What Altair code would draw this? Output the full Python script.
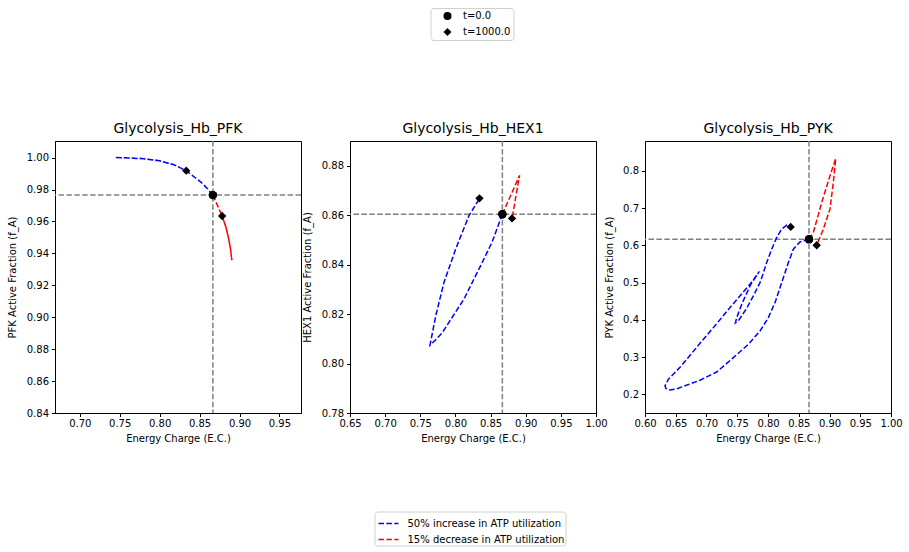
import altair as alt
import pandas as pd

# ---------------- data ----------------
SERIES = ["50% increase in ATP utilization", "15% decrease in ATP utilization"]
SERIES_COLORS = ["#0000ff", "#ff0000"]
TIMES = ["t=0.0", "t=1000.0"]
TIME_SHAPES = ["circle", "diamond"]
TITLES = ["Glycolysis_Hb_PFK", "Glycolysis_Hb_HEX1", "Glycolysis_Hb_PYK"]
Y_TITLES = ["PFK Active Fraction (f_A)", "HEX1 Active Fraction (f_A)", "PYK Active Fraction (f_A)"]
X_TITLE = "Energy Charge (E.C.)"

# PFK
pfk_blue_x = [0.8667, 0.8600, 0.8520, 0.8430, 0.8333, 0.8180, 0.8000, 0.7800, 0.7600, 0.7440,
              0.7600, 0.7800, 0.8000, 0.8180, 0.8333]
pfk_blue_y = [0.9765, 0.9805, 0.9845, 0.9880, 0.9918, 0.9955, 0.9980, 0.9993, 0.9998, 1.0000,
              0.9998, 0.9993, 0.9980, 0.9955, 0.9918]
pfk_red_x = [0.8667, 0.8720, 0.8783, 0.8830, 0.8865, 0.8890, 0.8904, 0.8890, 0.8865, 0.8830, 0.8783]
pfk_red_y = [0.9765, 0.9705, 0.9634, 0.9565, 0.9490, 0.9420, 0.9357, 0.9420, 0.9490, 0.9565, 0.9634]

# HEX1
hex_blue_x = [0.8668, 0.8520, 0.8356, 0.8120, 0.7813, 0.7680, 0.7638, 0.7719, 0.7836, 0.8002, 0.8191, 0.8342]
hex_blue_y = [0.8604, 0.8490, 0.8394, 0.8260, 0.8125, 0.8085, 0.8074, 0.8192, 0.8327, 0.8462, 0.8597, 0.8668]
hex_red_x = [0.8668, 0.8730, 0.8800, 0.8860, 0.8913, 0.8885, 0.8855, 0.8830, 0.8805]
hex_red_y = [0.8604, 0.8644, 0.8688, 0.8727, 0.8761, 0.8718, 0.8668, 0.8625, 0.8587]

# PYK
pyk_blue_x = [0.8667, 0.8520, 0.8412, 0.8331, 0.8222, 0.8114, 0.8005, 0.7870, 0.7680, 0.7436,
              0.7165, 0.6894, 0.6650, 0.6500, 0.6400, 0.6340, 0.6325, 0.6379, 0.6569, 0.6840,
              0.7111, 0.7382, 0.7599, 0.7762, 0.7859, 0.7720, 0.7580, 0.7490, 0.7470, 0.7520,
              0.7650, 0.7780, 0.7870, 0.7908, 0.7978, 0.8060, 0.8141, 0.8222, 0.8304, 0.8369]
pyk_blue_y = [0.6165, 0.6092, 0.5895, 0.5537, 0.5000, 0.4462, 0.4059, 0.3701, 0.3343, 0.2985,
              0.2600, 0.2380, 0.2230, 0.2140, 0.2120, 0.2160, 0.2230, 0.2403, 0.2725, 0.3262,
              0.3791, 0.4328, 0.4749, 0.5071, 0.5300, 0.4950, 0.4450, 0.4050, 0.3920, 0.3980,
              0.4300, 0.4700, 0.5000, 0.5179, 0.5537, 0.5895, 0.6209, 0.6433, 0.6540, 0.6495]
pyk_red_x = [0.8667, 0.8737, 0.8873, 0.9008, 0.9101, 0.9062, 0.9008, 0.8900, 0.8792]
pyk_red_y = [0.6165, 0.6342, 0.7148, 0.7866, 0.8330, 0.7686, 0.6971, 0.6434, 0.6003]

# axis limits and ticks
pfk_xlim, pfk_ylim = [0.669, 0.977], [0.84, 1.0104]
hex_xlim, hex_ylim = [0.65, 1.00], [0.78, 0.89]
pyk_xlim, pyk_ylim = [0.60, 1.00], [0.15, 0.88]
pfk_xticks = [0.70, 0.75, 0.80, 0.85, 0.90, 0.95]
pfk_yticks = [0.84, 0.86, 0.88, 0.90, 0.92, 0.94, 0.96, 0.98, 1.00]
hex_xticks = [0.65, 0.70, 0.75, 0.80, 0.85, 0.90, 0.95, 1.00]
hex_yticks = [0.78, 0.80, 0.82, 0.84, 0.86, 0.88]
pyk_xticks = [0.60, 0.65, 0.70, 0.75, 0.80, 0.85, 0.90, 0.95, 1.00]
pyk_yticks = [0.2, 0.3, 0.4, 0.5, 0.6, 0.7, 0.8]

FONT = "DejaVu Sans"
DASH = [5.5, 2.4]
PW, PH = 246, 272

color_legend = alt.Legend(
    title=None, orient="none", legendX=319.5, legendY=370.5,
    symbolType="stroke", symbolDash=DASH, symbolStrokeWidth=1.5, symbolSize=400,
    labelFont=FONT, labelFontSize=10, labelColor="black", labelLimit=400,
    labelOffset=8, padding=1, rowPadding=-9, symbolOffset=2,
    strokeColor="#d0d0d0", fillColor="white", cornerRadius=3,
)
shape_legend = alt.Legend(
    title=None, orient="none", legendX=375.5, legendY=-133,
    symbolSize=64, symbolFillColor="black", symbolStrokeColor="black", symbolStrokeWidth=0,
    labelFont=FONT, labelFontSize=10, labelColor="black", labelLimit=300,
    labelOffset=10.5, padding=3, rowPadding=6, symbolOffset=9,
    strokeColor="#d0d0d0", fillColor="white", cornerRadius=3,
)


def panel(title, ytitle, bx, by, rx, ry, xlim, ylim, xticks, yticks, yfmt):
    rows = []
    for s, xs_, ys_ in ((SERIES[0], bx, by), (SERIES[1], rx, ry)):
        for i, (x, y) in enumerate(zip(xs_, ys_)):
            rows.append({"series": s, "i": i, "x": x, "y": y})
    lines = pd.DataFrame(rows)
    pts = pd.DataFrame([
        {"t": TIMES[0], "x": bx[0], "y": by[0]},
        {"t": TIMES[0], "x": rx[0], "y": ry[0]},
        {"t": TIMES[1], "x": bx[-1], "y": by[-1]},
        {"t": TIMES[1], "x": rx[-1], "y": ry[-1]},
    ])
    ref = pd.DataFrame([{"x": bx[0], "y": by[0]}])

    xs = alt.Scale(domain=xlim, nice=False, zero=False)
    ys = alt.Scale(domain=ylim, nice=False, zero=False)
    xax = alt.Axis(values=xticks, format=".2f", title=X_TITLE)
    yax = alt.Axis(values=yticks, format=yfmt, title=ytitle)
    X = alt.X("x:Q", scale=xs, axis=xax)
    Y = alt.Y("y:Q", scale=ys, axis=yax)

    vrule = alt.Chart(ref).mark_rule(color="#808080", strokeWidth=1.5, strokeDash=DASH).encode(x=X)
    hrule = alt.Chart(ref).mark_rule(color="#808080", strokeWidth=1.5, strokeDash=DASH).encode(y=Y)
    line = alt.Chart(lines).mark_line(strokeWidth=1.5, strokeDash=DASH, clip=True).encode(
        x=X, y=Y,
        color=alt.Color("series:N", scale=alt.Scale(domain=SERIES, range=SERIES_COLORS), legend=color_legend),
        order=alt.Order("i:Q"),
    )
    points = alt.Chart(pts).mark_point(filled=True, color="black", size=70, opacity=1).encode(
        x=X, y=Y,
        shape=alt.Shape("t:N", scale=alt.Scale(domain=TIMES, range=TIME_SHAPES), legend=shape_legend),
    )
    return alt.layer(vrule, hrule, line, points).properties(
        width=PW, height=PH,
        title=alt.TitleParams(text=title, fontSize=14, font=FONT, fontWeight="normal", color="black", offset=4),
    )


p1 = panel(TITLES[0], Y_TITLES[0], pfk_blue_x, pfk_blue_y, pfk_red_x, pfk_red_y,
           pfk_xlim, pfk_ylim, pfk_xticks, pfk_yticks, ".2f")
p2 = panel(TITLES[1], Y_TITLES[1], hex_blue_x, hex_blue_y, hex_red_x, hex_red_y,
           hex_xlim, hex_ylim, hex_xticks, hex_yticks, ".2f")
p3 = panel(TITLES[2], Y_TITLES[2], pyk_blue_x, pyk_blue_y, pyk_red_x, pyk_red_y,
           pyk_xlim, pyk_ylim, pyk_xticks, pyk_yticks, ".1f")

chart = alt.hconcat(p1, p2, p3, spacing=49, bounds="flush").properties(
    padding={"left": 7, "top": 7, "right": 5, "bottom": 5},
    background="white",
).configure_axis(
    domainColor="black", tickColor="black", labelColor="black", titleColor="black",
    labelFont=FONT, titleFont=FONT, labelFontSize=10, titleFontSize=10, titleFontWeight="normal",
    tickSize=3.5, grid=False, labelFlush=False, labelOverlap=False, labelPadding=3,
).configure_axisX(labelPadding=2, titlePadding=4.5
).configure_axisY(titlePadding=8.5
).configure_view(stroke="black", strokeWidth=1)

chart.save("out.html", embed_options={"renderer": "svg", "actions": False})
